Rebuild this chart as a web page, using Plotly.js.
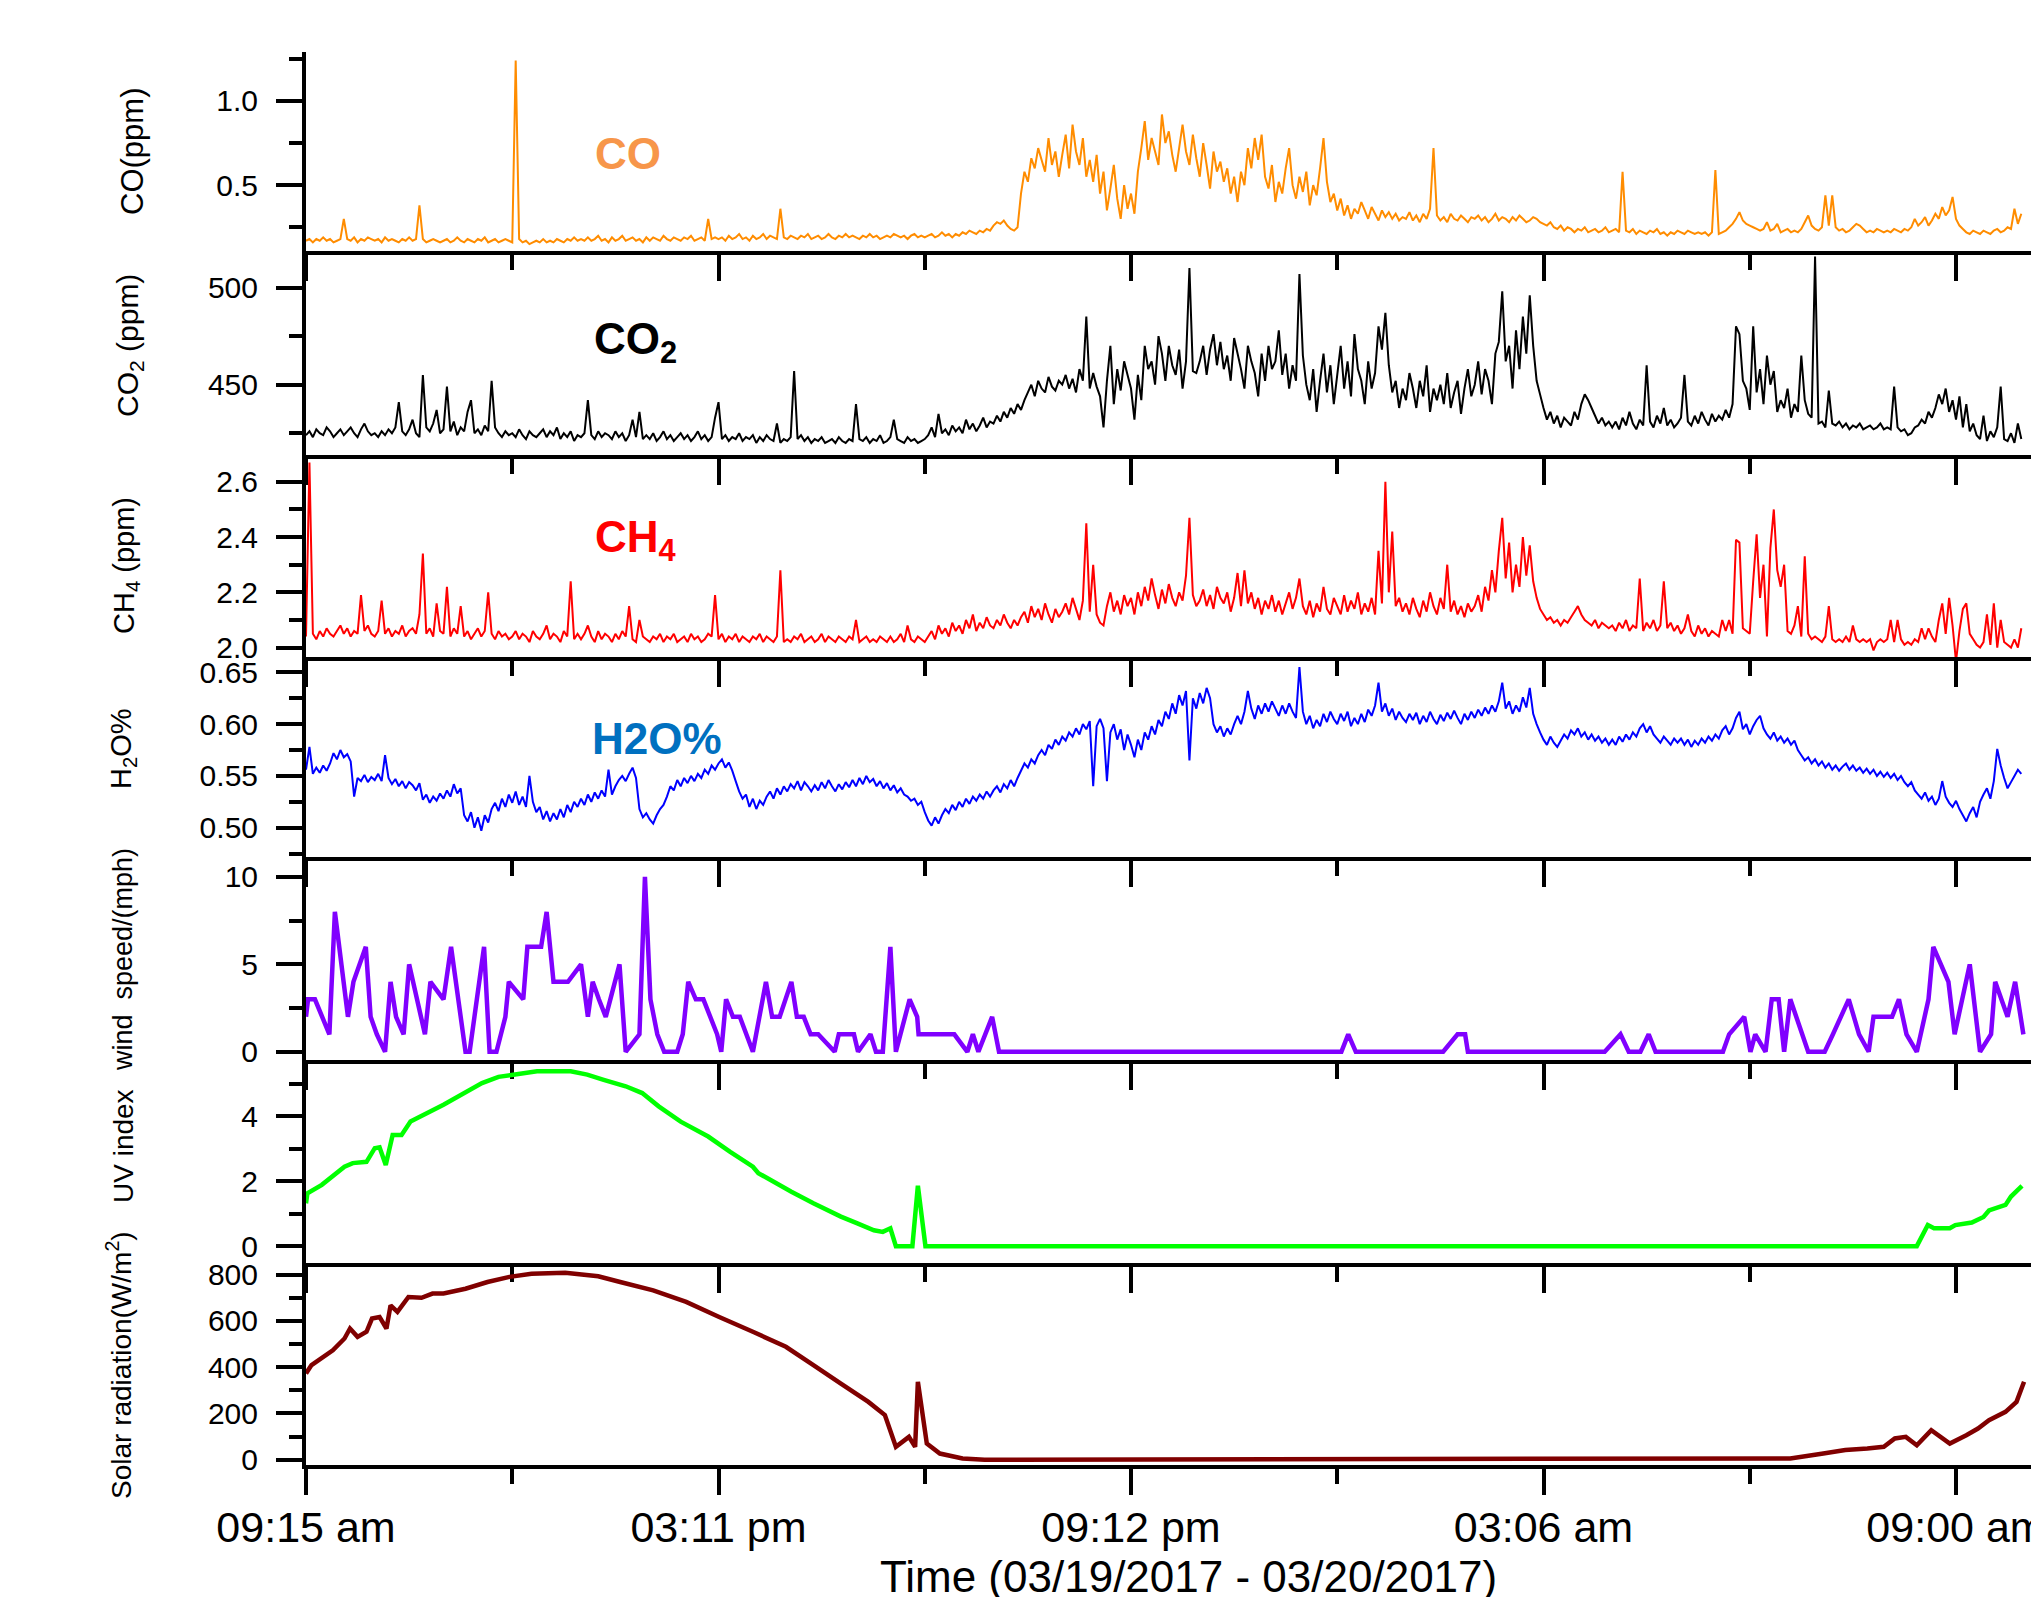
<!DOCTYPE html>
<html>
<head>
<meta charset="utf-8">
<script src="https://cdn.plot.ly/plotly-3.0.1.min.js"></script>
<style>
  html, body { margin: 0; padding: 0; overflow: hidden; background: #fff; }
  #chart { width: 2031px; height: 1597px; }
</style>
</head>
<body>
<div id="chart"></div>
<script>
// ---------------- DATA ----------------
// Time axis: hours since 09:15 am 03/19/2017
const tickHours = [0, 6, 12, 18, 24];
const tickLabels = ['09:15 am', '03:11 pm', '09:12 pm', '03:06 am', '09:00 am'];
const minorTickHours = [3, 9, 15, 21];

// Analyzer series sampled every 0.05 h (3 min); one row per hour
const analyzerStepHours = 0.05;

const coPpm = [
0.17,0.18,0.16,0.18,0.17,0.19,0.17,0.18,0.16,0.17,0.18,0.30,0.18,0.17,0.19,0.16,0.18,0.17,0.19,0.18,
0.17,0.18,0.16,0.19,0.17,0.18,0.17,0.16,0.18,0.17,0.19,0.17,0.18,0.38,0.18,0.16,0.17,0.18,0.17,0.16,
0.17,0.18,0.16,0.17,0.19,0.17,0.16,0.18,0.17,0.16,0.18,0.17,0.19,0.16,0.17,0.18,0.16,0.17,0.18,0.17,
0.16,1.24,0.18,0.16,0.17,0.15,0.16,0.17,0.16,0.18,0.16,0.17,0.16,0.18,0.17,0.16,0.18,0.17,0.19,0.17,
0.18,0.17,0.19,0.17,0.18,0.20,0.17,0.18,0.16,0.19,0.17,0.18,0.20,0.17,0.18,0.19,0.17,0.18,0.16,0.19,
0.17,0.19,0.18,0.17,0.20,0.18,0.17,0.19,0.18,0.17,0.19,0.18,0.20,0.17,0.18,0.19,0.17,0.30,0.18,0.19,
0.18,0.19,0.17,0.20,0.18,0.19,0.21,0.18,0.19,0.17,0.20,0.18,0.19,0.21,0.18,0.20,0.19,0.18,0.36,0.19,
0.18,0.20,0.19,0.18,0.20,0.19,0.21,0.18,0.19,0.20,0.18,0.19,0.21,0.19,0.18,0.20,0.19,0.21,0.19,0.20,
0.19,0.18,0.20,0.19,0.21,0.19,0.20,0.18,0.19,0.20,0.19,0.21,0.20,0.19,0.20,0.18,0.20,0.21,0.19,0.20,
0.19,0.20,0.21,0.19,0.20,0.22,0.20,0.21,0.19,0.21,0.20,0.22,0.21,0.23,0.22,0.21,0.23,0.22,0.24,0.23,
0.26,0.28,0.27,0.29,0.26,0.24,0.23,0.25,0.45,0.58,0.52,0.66,0.60,0.72,0.65,0.58,0.78,0.62,0.70,0.55,
0.68,0.80,0.60,0.86,0.70,0.62,0.78,0.55,0.65,0.52,0.68,0.45,0.58,0.35,0.48,0.62,0.42,0.30,0.50,0.36,
0.45,0.33,0.58,0.72,0.88,0.65,0.78,0.70,0.62,0.92,0.75,0.82,0.68,0.58,0.72,0.86,0.70,0.62,0.80,0.66,
0.55,0.75,0.62,0.48,0.70,0.58,0.64,0.52,0.60,0.45,0.55,0.40,0.58,0.50,0.72,0.60,0.78,0.65,0.80,0.55,
0.48,0.62,0.40,0.52,0.45,0.60,0.72,0.50,0.42,0.55,0.46,0.58,0.38,0.50,0.44,0.60,0.78,0.52,0.40,0.45,
0.35,0.42,0.32,0.38,0.30,0.36,0.33,0.40,0.35,0.30,0.37,0.33,0.29,0.35,0.31,0.34,0.30,0.33,0.29,0.31,
0.30,0.34,0.29,0.32,0.28,0.33,0.30,0.36,0.72,0.32,0.29,0.31,0.28,0.33,0.30,0.29,0.32,0.30,0.28,0.31,
0.30,0.32,0.29,0.31,0.28,0.30,0.33,0.29,0.31,0.30,0.28,0.31,0.29,0.32,0.30,0.28,0.29,0.31,0.30,0.28,
0.27,0.26,0.28,0.25,0.24,0.26,0.23,0.25,0.24,0.22,0.24,0.23,0.25,0.22,0.23,0.24,0.22,0.23,0.25,0.22,
0.23,0.24,0.22,0.58,0.23,0.22,0.24,0.21,0.23,0.22,0.21,0.23,0.22,0.24,0.21,0.22,0.20,0.22,0.21,0.23,
0.22,0.21,0.23,0.22,0.21,0.22,0.21,0.22,0.20,0.22,0.59,0.21,0.22,0.23,0.25,0.27,0.30,0.34,0.29,0.27,
0.26,0.25,0.24,0.23,0.24,0.28,0.23,0.24,0.27,0.22,0.23,0.24,0.22,0.23,0.22,0.24,0.28,0.32,0.26,0.24,
0.23,0.25,0.44,0.26,0.44,0.25,0.23,0.24,0.22,0.23,0.25,0.27,0.26,0.24,0.22,0.23,0.22,0.24,0.23,0.22,
0.23,0.22,0.24,0.23,0.22,0.24,0.23,0.25,0.30,0.26,0.28,0.31,0.26,0.29,0.33,0.30,0.37,0.32,0.35,0.43,
0.30,0.26,0.24,0.22,0.21,0.23,0.22,0.21,0.23,0.22,0.21,0.23,0.24,0.22,0.23,0.25,0.24,0.36,0.27,0.33
];

const co2Ppm = [
424,426,423,427,425,424,428,426,423,425,427,424,426,428,425,423,427,430,426,424,
425,423,426,424,427,425,428,441,426,424,427,432,425,423,455,428,426,430,437,425,
427,449,426,431,424,428,426,436,442,425,427,424,429,426,452,428,425,423,426,424,
425,423,427,424,422,426,424,423,425,427,423,426,424,428,422,425,423,426,421,424,
423,425,442,424,422,426,423,425,424,422,426,423,425,421,424,432,423,436,422,424,
422,425,421,423,426,422,424,421,423,425,422,424,421,423,426,422,424,421,423,433,
441,422,424,421,423,422,425,421,423,422,424,420,423,421,424,422,421,430,420,422,
421,423,457,422,424,421,423,420,422,421,423,420,421,422,420,423,421,420,422,421,
440,422,421,423,420,422,421,424,420,421,423,432,422,421,420,423,421,422,420,421,
422,424,428,423,435,425,427,424,429,426,428,425,432,427,430,426,429,433,428,431,
430,434,431,436,433,438,435,440,437,442,446,450,444,452,448,446,454,449,447,452,
450,455,448,453,446,458,452,485,448,456,449,444,428,452,470,440,458,447,462,455,
448,432,455,442,470,458,462,450,475,466,452,470,460,455,468,448,462,510,457,456,
462,470,455,468,476,460,472,458,465,452,474,466,458,448,470,462,456,444,466,452,
470,458,462,478,455,466,448,460,452,507,465,450,442,458,436,452,466,446,460,440,
455,470,448,462,444,476,458,452,440,462,448,456,480,468,487,460,446,452,438,448,
442,456,448,438,452,444,460,436,448,442,450,440,456,438,446,452,435,448,458,444,
450,462,445,458,452,440,466,472,498,462,470,448,478,458,485,466,496,470,452,445,
438,432,436,430,434,428,433,431,429,436,432,440,445,442,438,434,430,433,429,431,
428,431,427,433,429,436,430,427,432,429,460,431,428,434,430,438,429,432,428,430,
433,455,431,429,434,430,436,432,429,435,431,434,432,437,433,440,480,476,452,448,
437,480,446,458,440,465,450,457,436,442,438,448,433,440,436,465,442,435,433,516,
430,431,428,447,430,429,431,428,430,427,429,428,430,427,428,429,427,428,430,427,
428,427,449,428,426,427,424,425,428,429,432,430,436,433,438,445,440,448,436,442,
432,444,428,440,426,430,424,422,434,421,426,423,428,449,422,421,425,420,430,422
];

const ch4Ppm = [
2.04,2.67,2.05,2.03,2.06,2.04,2.07,2.05,2.04,2.06,2.08,2.05,2.07,2.04,2.06,2.05,2.19,2.06,2.08,2.05,
2.04,2.06,2.17,2.05,2.07,2.04,2.06,2.05,2.08,2.04,2.06,2.07,2.05,2.12,2.34,2.05,2.07,2.04,2.16,2.06,
2.05,2.22,2.04,2.07,2.05,2.15,2.04,2.06,2.03,2.05,2.07,2.04,2.06,2.20,2.05,2.03,2.06,2.04,2.05,2.03,
2.04,2.06,2.03,2.05,2.04,2.02,2.06,2.04,2.03,2.05,2.08,2.03,2.05,2.04,2.02,2.06,2.04,2.24,2.03,2.05,
2.03,2.05,2.08,2.04,2.02,2.06,2.03,2.05,2.04,2.02,2.05,2.03,2.06,2.04,2.15,2.03,2.02,2.10,2.04,2.03,
2.02,2.04,2.03,2.05,2.02,2.04,2.03,2.05,2.02,2.03,2.04,2.02,2.05,2.03,2.04,2.02,2.03,2.05,2.04,2.19,
2.03,2.05,2.02,2.04,2.03,2.05,2.02,2.04,2.03,2.02,2.04,2.03,2.05,2.02,2.04,2.03,2.02,2.04,2.28,2.02,
2.03,2.02,2.04,2.03,2.05,2.02,2.03,2.04,2.02,2.03,2.05,2.02,2.04,2.03,2.02,2.04,2.03,2.02,2.04,2.03,
2.10,2.02,2.03,2.04,2.02,2.03,2.02,2.04,2.03,2.02,2.04,2.02,2.03,2.05,2.02,2.08,2.03,2.02,2.04,2.03,
2.02,2.04,2.06,2.03,2.08,2.05,2.07,2.04,2.09,2.06,2.08,2.05,2.10,2.07,2.12,2.06,2.09,2.07,2.11,2.08,
2.07,2.10,2.08,2.12,2.09,2.07,2.10,2.08,2.11,2.13,2.09,2.15,2.11,2.14,2.10,2.16,2.12,2.09,2.14,2.11,
2.13,2.16,2.12,2.18,2.14,2.10,2.17,2.45,2.13,2.30,2.12,2.09,2.08,2.15,2.20,2.13,2.17,2.12,2.19,2.15,
2.18,2.12,2.20,2.15,2.22,2.17,2.25,2.19,2.14,2.21,2.16,2.23,2.18,2.15,2.20,2.17,2.26,2.47,2.19,2.15,
2.17,2.21,2.15,2.19,2.14,2.22,2.18,2.16,2.20,2.13,2.18,2.27,2.15,2.28,2.16,2.20,2.14,2.18,2.12,2.17,
2.14,2.19,2.13,2.17,2.12,2.16,2.20,2.14,2.18,2.25,2.15,2.12,2.17,2.11,2.16,2.13,2.22,2.14,2.12,2.18,
2.15,2.12,2.19,2.13,2.17,2.14,2.20,2.12,2.16,2.13,2.18,2.12,2.35,2.16,2.60,2.20,2.42,2.15,2.18,2.13,
2.16,2.12,2.18,2.14,2.11,2.17,2.13,2.20,2.15,2.12,2.18,2.14,2.30,2.13,2.17,2.12,2.15,2.11,2.16,2.13,
2.15,2.19,2.13,2.22,2.17,2.28,2.20,2.35,2.47,2.25,2.38,2.20,2.30,2.22,2.40,2.26,2.37,2.24,2.18,2.14,
2.12,2.10,2.11,2.09,2.10,2.08,2.10,2.09,2.11,2.13,2.15,2.12,2.10,2.09,2.08,2.10,2.07,2.09,2.08,2.07,
2.08,2.06,2.09,2.07,2.10,2.06,2.08,2.07,2.25,2.06,2.09,2.07,2.10,2.06,2.08,2.24,2.07,2.09,2.06,2.08,
2.05,2.07,2.12,2.06,2.04,2.08,2.05,2.07,2.04,2.06,2.05,2.04,2.10,2.06,2.10,2.05,2.39,2.38,2.07,2.06,
2.05,2.24,2.41,2.18,2.30,2.04,2.36,2.50,2.28,2.22,2.30,2.06,2.05,2.08,2.15,2.04,2.33,2.05,2.03,2.04,
2.03,2.02,2.04,2.15,2.03,2.02,2.03,2.02,2.04,2.02,2.08,2.03,2.02,2.03,2.02,2.03,1.99,2.02,2.03,2.02,
2.03,2.10,2.02,2.10,2.03,2.01,2.02,2.01,2.03,2.02,2.07,2.03,2.07,2.04,2.02,2.10,2.16,2.05,2.18,2.08,
1.95,2.06,2.14,2.16,2.05,2.03,2.01,2.00,2.02,2.12,2.01,2.16,2.00,2.10,2.02,2.01,2.00,2.03,2.00,2.07
];

const h2oPercent = [
0.556,0.578,0.552,0.558,0.553,0.560,0.555,0.562,0.572,0.566,0.575,0.568,0.571,0.564,0.530,0.548,0.545,0.551,0.544,0.549,
0.546,0.552,0.545,0.570,0.548,0.542,0.547,0.540,0.545,0.538,0.544,0.541,0.536,0.543,0.527,0.532,0.524,0.530,0.526,0.533,
0.528,0.536,0.530,0.542,0.533,0.538,0.512,0.506,0.515,0.500,0.510,0.497,0.512,0.505,0.518,0.524,0.516,0.528,0.520,0.532,
0.524,0.535,0.522,0.530,0.520,0.550,0.525,0.515,0.520,0.508,0.516,0.506,0.514,0.508,0.518,0.510,0.522,0.515,0.525,0.520,
0.528,0.522,0.532,0.525,0.534,0.528,0.536,0.530,0.556,0.532,0.540,0.546,0.550,0.545,0.552,0.558,0.548,0.518,0.510,0.514,
0.508,0.504,0.512,0.518,0.522,0.530,0.540,0.536,0.546,0.540,0.548,0.543,0.550,0.545,0.552,0.548,0.556,0.552,0.560,0.556,
0.562,0.566,0.558,0.563,0.555,0.545,0.535,0.528,0.532,0.520,0.528,0.518,0.526,0.522,0.530,0.535,0.528,0.538,0.532,0.540,
0.535,0.542,0.538,0.545,0.536,0.544,0.540,0.535,0.541,0.536,0.544,0.538,0.546,0.540,0.535,0.542,0.537,0.544,0.539,0.546,
0.540,0.548,0.542,0.550,0.544,0.547,0.540,0.545,0.538,0.543,0.536,0.541,0.534,0.538,0.532,0.530,0.526,0.528,0.522,0.525,
0.515,0.507,0.502,0.510,0.504,0.512,0.518,0.514,0.522,0.517,0.525,0.520,0.528,0.523,0.530,0.526,0.532,0.528,0.535,0.530,
0.536,0.540,0.534,0.542,0.538,0.546,0.540,0.548,0.555,0.562,0.558,0.566,0.562,0.570,0.575,0.570,0.580,0.576,0.585,0.580,
0.588,0.584,0.592,0.588,0.596,0.590,0.600,0.595,0.603,0.540,0.598,0.605,0.596,0.545,0.592,0.600,0.585,0.595,0.575,0.590,
0.580,0.568,0.585,0.575,0.592,0.585,0.598,0.590,0.604,0.598,0.612,0.605,0.620,0.610,0.628,0.618,0.632,0.565,0.625,0.615,
0.630,0.620,0.635,0.625,0.600,0.592,0.598,0.588,0.596,0.590,0.600,0.608,0.600,0.612,0.632,0.615,0.605,0.618,0.610,0.620,
0.612,0.622,0.615,0.608,0.618,0.610,0.620,0.612,0.606,0.655,0.612,0.600,0.608,0.596,0.604,0.598,0.610,0.602,0.612,0.605,
0.600,0.610,0.603,0.612,0.598,0.606,0.600,0.610,0.602,0.614,0.608,0.618,0.640,0.612,0.620,0.608,0.615,0.604,0.612,0.606,
0.602,0.610,0.604,0.611,0.600,0.608,0.602,0.612,0.605,0.600,0.609,0.603,0.611,0.605,0.613,0.606,0.600,0.610,0.604,0.612,
0.606,0.614,0.608,0.616,0.610,0.618,0.612,0.622,0.640,0.615,0.622,0.610,0.618,0.612,0.626,0.616,0.635,0.610,0.600,0.592,
0.585,0.580,0.588,0.582,0.578,0.584,0.590,0.586,0.594,0.590,0.596,0.588,0.592,0.585,0.590,0.584,0.588,0.582,0.586,0.580,
0.585,0.580,0.588,0.583,0.590,0.585,0.592,0.588,0.596,0.600,0.592,0.598,0.590,0.586,0.582,0.588,0.584,0.580,0.586,0.582,
0.586,0.580,0.585,0.578,0.584,0.580,0.586,0.582,0.588,0.584,0.590,0.586,0.594,0.598,0.590,0.596,0.606,0.612,0.595,0.600,
0.590,0.598,0.604,0.608,0.596,0.590,0.586,0.592,0.584,0.588,0.582,0.586,0.580,0.584,0.575,0.570,0.565,0.568,0.562,0.566,
0.560,0.564,0.558,0.562,0.556,0.560,0.555,0.559,0.562,0.556,0.560,0.555,0.558,0.553,0.557,0.552,0.556,0.550,0.554,0.549,
0.553,0.548,0.552,0.546,0.550,0.544,0.540,0.544,0.536,0.532,0.528,0.534,0.526,0.530,0.522,0.528,0.545,0.530,0.524,0.520,
0.526,0.518,0.512,0.506,0.514,0.520,0.510,0.525,0.532,0.538,0.528,0.545,0.576,0.560,0.548,0.538,0.544,0.550,0.556,0.552
];

// Weather station series (irregular vertices)
const windHours = [0,0.03,0.13,0.34,0.42,0.61,0.69,0.87,0.94,1.03,1.15,1.23,1.31,1.42,1.50,1.73,1.81,2.00,2.11,2.32,2.38,2.59,2.67,2.77,2.90,2.95,3.16,3.22,3.42,3.50,3.60,3.81,4.00,4.10,4.17,4.26,4.36,4.56,4.65,4.85,4.93,5.01,5.11,5.21,5.40,5.48,5.56,5.67,5.78,5.98,6.04,6.11,6.21,6.31,6.50,6.69,6.78,6.89,7.06,7.14,7.24,7.34,7.45,7.69,7.75,7.97,8.03,8.21,8.29,8.39,8.50,8.58,8.78,8.89,8.91,9.43,9.62,9.70,9.78,9.98,10.08,15.06,15.16,15.27,16.54,16.75,16.86,16.90,18.89,19.12,19.24,19.41,19.53,19.63,20.61,20.70,20.92,21.01,21.08,21.23,21.32,21.42,21.50,21.59,21.85,22.09,22.21,22.44,22.59,22.73,22.80,23.07,23.17,23.28,23.43,23.60,23.67,23.89,23.98,24.20,24.35,24.51,24.57,24.75,24.86,24.98];
const windMph = [2,3,3,1,8,2,4,6,2,1,0,4,2,1,5,1,4,3,6,0,0,6,0,0,2,4,3,6,6,8,4,4,5,2,4,3,2,5,0,1,10,3,1,0,0,1,4,3,3,1,0,3,2,2,0,4,2,2,4,2,2,1,1,0,1,1,0,1,0,0,6,0,3,2,1,1,0,1,0,2,0,0,1,0,0,1,1,0,0,1,0,0,1,0,0,1,2,0,1,0,3,3,0,3,0,0,1,3,1,0,2,2,3,1,0,3,6,4,1,5,0,1,4,2,4,1];

const uvHours = [0,0.02,0.23,0.56,0.68,0.88,1.00,1.07,1.16,1.26,1.39,1.52,2.00,2.56,2.80,3.04,3.36,3.85,4.09,4.33,4.65,4.89,5.13,5.45,5.85,6.17,6.50,6.58,7.06,7.38,7.78,8.02,8.26,8.39,8.50,8.58,8.82,8.90,9.01,23.43,23.59,23.68,23.91,23.99,24.23,24.40,24.48,24.72,24.80,24.96];
const uvIndex = [1.32,1.63,1.89,2.45,2.56,2.60,3.02,3.05,2.50,3.43,3.43,3.84,4.36,5.03,5.22,5.29,5.39,5.39,5.29,5.13,4.93,4.72,4.31,3.84,3.38,2.91,2.45,2.25,1.68,1.32,0.91,0.70,0.49,0.44,0.55,0,0,1.86,0,0,0.65,0.55,0.55,0.65,0.73,0.90,1.10,1.27,1.53,1.86];

const solarHours = [0,0.08,0.39,0.56,0.64,0.75,0.88,0.96,1.07,1.17,1.23,1.33,1.49,1.68,1.84,2.00,2.32,2.64,2.96,3.28,3.77,4.25,4.57,5.05,5.53,6.01,6.50,6.98,7.38,7.78,8.18,8.42,8.58,8.77,8.86,8.90,9.03,9.22,9.55,9.87,21.59,22.07,22.39,22.71,22.95,23.11,23.27,23.43,23.64,23.91,24.15,24.32,24.48,24.72,24.88,24.99];
const solarWm2 = [373,409,473,524,567,531,553,610,617,567,667,639,703,700,718,718,739,768,790,804,808,793,768,732,682,617,553,488,409,329,250,193,56,99,56,337,70,27,6,0,6,27,42,49,56,92,99,63,128,70,106,135,171,207,250,337];

// ---------------- LAYOUT ----------------
const W = 2031, H = 1597;
const plotLeft = 306, plotRight = 2031, plotTop = 52, plotBottom = 1465;
const panelEdges = [52, 251, 455, 657, 857, 1060, 1263, 1465];
const xRange = [0, (plotRight - plotLeft) / 68.75];
const fontFam = 'Liberation Sans, Arial, Helvetica, sans-serif';

const px2x = p => (p - plotLeft) / (plotRight - plotLeft);
const px2y = p => (plotBottom - p) / (plotBottom - plotTop);

const analyzerHours = arr => arr.map((_, i) => +(i * analyzerStepHours).toFixed(2));

const panels = [
  { x: analyzerHours(coPpm), y: coPpm, color: '#FF8C00', width: 2,
    range: [0.109, 1.291], major: [0.5, 1.0], fmt: '.1f', minor: [0.25, 0.75, 1.25] },
  { x: analyzerHours(co2Ppm), y: co2Ppm, color: '#000000', width: 2,
    range: [413.8, 518.8], major: [450, 500], fmt: 'd', minor: [425, 475] },
  { x: analyzerHours(ch4Ppm), y: ch4Ppm, color: '#FF0000', width: 2,
    range: [1.966, 2.697], major: [2.0, 2.2, 2.4, 2.6], fmt: '.1f', minor: [2.1, 2.3, 2.5] },
  { x: analyzerHours(h2oPercent), y: h2oPercent, color: '#0000FF', width: 2,
    range: [0.4717, 0.6648], major: [0.50, 0.55, 0.60, 0.65], fmt: '.2f', minor: [0.475, 0.525, 0.575, 0.625] },
  { x: windHours, y: windMph, color: '#8000FF', width: 4.5,
    range: [-0.47, 11.14], major: [0, 5, 10], fmt: 'd', minor: [2.5, 7.5] },
  { x: uvHours, y: uvIndex, color: '#00FF00', width: 4.5,
    range: [-0.52, 5.74], major: [0, 2, 4], fmt: 'd', minor: [1, 3, 5] },
  { x: solarHours, y: solarWm2, color: '#800000', width: 4.5,
    range: [-22.5, 850], major: [0, 200, 400, 600, 800], fmt: 'd', minor: [100, 300, 500, 700] }
];

const traces = [];
const layout = {
  width: W, height: H,
  margin: { l: plotLeft, r: W - plotRight, t: plotTop, b: H - plotBottom, pad: 0 },
  paper_bgcolor: '#ffffff', plot_bgcolor: 'rgba(0,0,0,0)',
  showlegend: false,
  font: { family: fontFam, color: '#000', size: 30 },
  annotations: []
};

panels.forEach((p, i) => {
  const n = i + 1;
  const xa = 'x' + (n === 1 ? '' : n), ya = 'y' + (n === 1 ? '' : n);
  const xk = 'xaxis' + (n === 1 ? '' : n), yk = 'yaxis' + (n === 1 ? '' : n);
  traces.push({
    type: 'scatter', mode: 'lines', x: p.x, y: p.y, xaxis: xa, yaxis: ya,
    line: { color: p.color, width: p.width, simplify: false }, hoverinfo: 'skip', cliponaxis: true
  });
  const isBottom = n === panels.length;
  layout[xk] = {
    anchor: ya, domain: [0, 1], range: xRange, showgrid: false, zeroline: false,
    showline: true, linecolor: '#000', linewidth: 4,
    tickmode: 'array', tickvals: tickHours, ticktext: tickLabels,
    ticks: 'outside', ticklen: 26, tickwidth: 4, tickcolor: '#000',
    showticklabels: isBottom, ticklabelstandoff: -5, ticklabeloverflow: 'allow',
    tickfont: { family: fontFam, size: 43, color: '#000' },
    minor: { tickmode: 'array', tickvals: minorTickHours, ticks: 'outside', ticklen: 15, tickwidth: 4, tickcolor: '#000', showgrid: false }
  };
  layout[yk] = {
    anchor: xa,
    domain: [px2y(panelEdges[i + 1]), px2y(panelEdges[i])],
    range: p.range, showgrid: false, zeroline: false,
    showline: true, linecolor: '#000', linewidth: 4,
    tickmode: 'array', tickvals: p.major, tickformat: p.fmt,
    ticks: 'outside', ticklen: 26, tickwidth: 4, tickcolor: '#000',
    ticklabelstandoff: 12,
    tickfont: { family: fontFam, size: 30, color: '#000' },
    minor: { tickmode: 'array', tickvals: p.minor, ticks: 'outside', ticklen: 13, tickwidth: 4, tickcolor: '#000', showgrid: false }
  };
});

// Axis titles (rotated) and in-panel labels
const yTitles = [
  { text: 'CO(ppm)', px: 133, py: 152, size: 31 },
  { text: 'CO<sub>2</sub> (ppm)', px: 130, py: 346, size: 30 },
  { text: 'CH<sub>4</sub> (ppm)', px: 126, py: 566, size: 29 },
  { text: 'H<sub>2</sub>O%', px: 123, py: 749, size: 29 },
  { text: 'wind  speed/(mph)', px: 123, py: 960, size: 27 },
  { text: 'UV index', px: 123, py: 1146, size: 28 },
  { text: 'Solar radiation(W/m<sup>2</sup>)', px: 119, py: 1365, size: 28 }
];
yTitles.forEach(t => layout.annotations.push({
  text: t.text, xref: 'paper', yref: 'paper', x: px2x(t.px), y: px2y(t.py),
  xanchor: 'center', yanchor: 'middle', textangle: -90, showarrow: false,
  font: { family: fontFam, size: t.size, color: '#000' }
}));

const panelLabels = [
  { text: '<b>CO</b>', px: 628, py: 153, color: '#F7964A' },
  { text: '<b>CO<sub>2</sub></b>', px: 635, py: 342, color: '#000000' },
  { text: '<b>CH<sub>4</sub></b>', px: 635, py: 540, color: '#FF0000' },
  { text: '<b>H2O%</b>', px: 657, py: 738, color: '#0070C0' }
];
panelLabels.forEach(t => layout.annotations.push({
  text: t.text, xref: 'paper', yref: 'paper', x: px2x(t.px), y: px2y(t.py),
  xanchor: 'center', yanchor: 'middle', showarrow: false,
  font: { family: fontFam, size: 44, color: t.color }
}));

layout.annotations.push({
  text: 'Time (03/19/2017 - 03/20/2017)', xref: 'paper', yref: 'paper',
  x: px2x(1188), y: px2y(1576), xanchor: 'center', yanchor: 'middle', showarrow: false,
  font: { family: fontFam, size: 44, color: '#000' }
});

Plotly.newPlot('chart', traces, layout, { staticPlot: true, displayModeBar: false });
</script>
</body>
</html>
